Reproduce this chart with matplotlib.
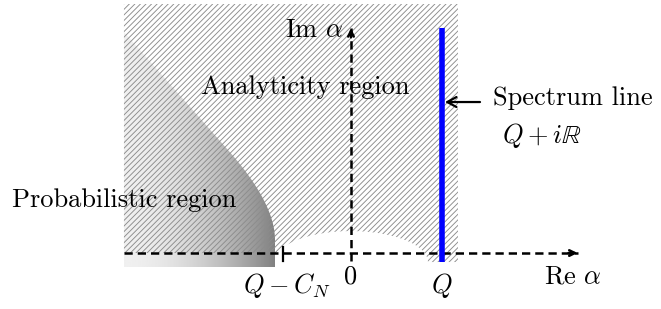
import numpy as np
import matplotlib
matplotlib.use("Agg")
import matplotlib.pyplot as plt
from matplotlib.patches import Polygon

plt.rcParams['font.family'] = 'cmr10'
plt.rcParams['mathtext.fontset'] = 'cm'
plt.rcParams['axes.formatter.use_mathtext'] = True
plt.rcParams['hatch.linewidth'] = 0.65

# Posiciones clave (unidades del plano complejo)
Q = 1.0
C_N = 1.75
re_axis = [-2.495, 2.49]
im_axis = [-0.09, 2.47]
spectrum_y = [-0.10, 2.47]

# Zona rayada (analiticidad) y hueco blanco cerca del origen
hatch_x = [-2.495, 1.176]
hatch_y = [-0.099, 2.736]
hueco_centro = [0.0, -0.099]
hueco_radios = [0.846, 0.34]

# Zona probabilistica: recta + curva
prob_top = [-2.495, 2.429]
prob_codo = [-1.352, 1.132]
prob_ctrl = [-0.835, 0.55]
prob_fin = [-0.835, 0.143]
prob_bottom = -0.154

# Textos: (texto, x, y, alineacion)
etiquetas = [
    (r'Im $\alpha$', -0.41, 2.374, 'center'),
    ('Analyticity region', -0.50, 1.747, 'center'),
    ('Spectrum line', 1.56, 1.626, 'left'),
    (r'$Q + i\mathbb{R}$', 1.659, 1.209, 'left'),
    ('Probabilistic region', -3.725, 0.505, 'left'),
    (r'$Q - C_N$', -0.709, -0.44, 'center'),
    ('0', 0.0, -0.33, 'center'),
    (r'$Q$', Q, -0.44, 'center'),
    (r'Re $\alpha$', 2.434, -0.33, 'center'),
]

fig = plt.figure(figsize=(6.61, 3.09), dpi=100)
ax = fig.add_axes([0, 0, 1, 1])
ax.set_xlim(-3.857, 3.407)
ax.set_ylim(-0.615, 2.780)
ax.axis('off')

# --- region probabilistica con degradado horizontal ---
t = np.linspace(0, 1, 30)
curva_x = (1 - t)**2 * prob_codo[0] + 2 * (1 - t) * t * prob_ctrl[0] + t**2 * prob_fin[0]
curva_y = (1 - t)**2 * prob_codo[1] + 2 * (1 - t) * t * prob_ctrl[1] + t**2 * prob_fin[1]
pts = [prob_top] + list(zip(curva_x, curva_y)) + [(prob_fin[0], prob_bottom), (prob_top[0], prob_bottom)]
prob_poly = Polygon(pts, closed=True, facecolor='none', edgecolor='none')
ax.add_patch(prob_poly)
grad = np.linspace(0, 1, 256) ** 1.8
grad = 0.94 - 0.44 * grad
img = ax.imshow(np.vstack([grad, grad]), cmap='gray', vmin=0, vmax=1, aspect='auto',
                extent=[prob_top[0], prob_fin[0], prob_bottom, prob_top[1]], zorder=1)
img.set_clip_path(prob_poly)

# --- region rayada ---
ang_izq = np.pi - np.arcsin(-hueco_centro[1] / hueco_radios[1])
ang = np.linspace(0, ang_izq, 60)
arco_x = hueco_centro[0] + hueco_radios[0] * np.cos(ang)
arco_y = hueco_centro[1] + hueco_radios[1] * np.sin(ang)
hpts = [(hatch_x[0], hatch_y[1]), (hatch_x[1], hatch_y[1]), (hatch_x[1], hatch_y[0])]
hpts += list(zip(arco_x, arco_y))
hpts += [(hatch_x[0], 0.0)]
ax.add_patch(Polygon(hpts, closed=True, facecolor='none', edgecolor='#8c8c8c',
                     linewidth=0, hatch='//////', zorder=2))

# --- ejes discontinuos ---
estilo = dict(color='black', lw=1.8, linestyle=(0, (3.3, 2.0)), zorder=3)
ax.plot(re_axis, [0, 0], **estilo)
ax.plot([0, 0], im_axis, **estilo)
flecha = dict(arrowstyle='->', lw=1.8, color='black', shrinkA=0, shrinkB=0,
              mutation_scale=10)
ax.annotate('', xy=(re_axis[1], 0), xytext=(re_axis[1] - 0.1, 0), arrowprops=flecha, zorder=3)
ax.annotate('', xy=(0, im_axis[1]), xytext=(0, im_axis[1] - 0.1), arrowprops=flecha, zorder=3)

# marca en Q - C_N
ax.plot([Q - C_N, Q - C_N], [-0.088, 0.066], color='black', lw=1.6, zorder=3)

# linea espectral
ax.plot([Q, Q], spectrum_y, color='#0000ff', lw=4, solid_capstyle='butt', zorder=4)
ax.annotate('', xy=(1.033, 1.659), xytext=(1.418, 1.659),
            arrowprops=dict(arrowstyle='->,head_length=0.55,head_width=0.3', lw=1.6,
                            color='black', shrinkA=0, shrinkB=0, mutation_scale=12),
            zorder=5)

for texto, x, y, ha in etiquetas:
    ax.text(x, y, texto, ha=ha, va='baseline', fontsize=19, zorder=6)

fig.savefig('out.png', dpi=100)
